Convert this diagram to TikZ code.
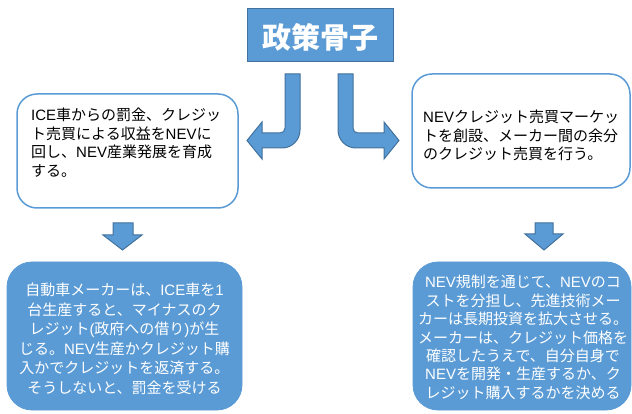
\documentclass[tikz,border=0pt]{standalone}
\usepackage{fontspec}
\newfontfamily\cjk{Noto Sans CJK JP}
\newfontfamily\latn{Liberation Sans}
\newcommand{\ltn}[1]{{\latn #1}}
\definecolor{ofblue}{HTML}{5B9BD5}
\definecolor{ofdark}{HTML}{41719C}
\tikzset{
  whitebox/.style={draw=ofblue, line width=1.5pt, fill=white, rounded corners=20pt, inner sep=0pt},
  bluebox/.style={draw=ofblue, line width=0.8pt, fill=ofblue, rounded corners=25pt, inner sep=0pt},
  titlebox/.style={draw=ofdark, line width=1pt, fill=ofblue, inner sep=0pt},
  blockarrow/.style={draw=ofdark, line width=1pt, fill=ofblue, line join=miter},
  bodytxt/.style={inner sep=0pt, font=\cjk\fontsize{15}{18.6}\selectfont},
}
\newcommand{\leftlines}[1]{\vtop{\hsize=230pt\raggedright\fontsize{15}{18.7}\selectfont #1\par}}
\begin{document}
\begin{tikzpicture}[x=1pt,y=-1pt]
\useasboundingbox (0,0) rectangle (632,414);
% title
\node[titlebox, minimum width=146pt, minimum height=53pt] (title) at (320,35.5) {};
\node[inner sep=0pt, text=white, font=\cjk\bfseries\fontsize{29}{32}\selectfont] (titletxt) at (320,37) {政策骨子};
% bent arrows
\draw[blockarrow] (285,74) -- (300,74) -- (300,130) .. controls (300,140) and (292,148) .. (282,148)
  -- (262,148) -- (262,159) -- (247,140.5) -- (262,122) -- (262,133) -- (280,133)
  .. controls (283,133) and (285,131) .. (285,128) -- cycle;
\draw[blockarrow] (353,74) -- (338,74) -- (338,130) .. controls (338,140) and (346,148) .. (356,148)
  -- (384,148) -- (384,159) -- (399,140.5) -- (384,122) -- (384,133) -- (358,133)
  .. controls (355,133) and (353,131) .. (353,128) -- cycle;
% top boxes
\node[whitebox, minimum width=221pt, minimum height=114pt] (b1) at (127.5,151) {};
\node[bodytxt, anchor=base west] (t1) at (31,120.5) {\cjk\leftlines{\ltn{ICE}車からの罰金、クレジッ\\ト売買による収益を\ltn{NEV}に\\回し、\ltn{NEV}産業発展を育成\\する。}};
\node[whitebox, minimum width=218pt, minimum height=114pt] (b2) at (521,131) {};
\node[bodytxt, anchor=base west] (t2) at (423,122.5) {\cjk\leftlines{\ltn{NEV}クレジット売買マーケッ\\トを創設、メーカー間の余分\\のクレジット売買を行う。}};
% down arrows
\draw[blockarrow] (113,223) -- (133,223) -- (133,235) -- (142,235) -- (122.5,250) -- (103,235) -- (113,235) -- cycle;
\draw[blockarrow] (535,223) -- (553,223) -- (553,234) -- (563,234) -- (544,250) -- (525,234) -- (535,234) -- cycle;
% bottom boxes
\node[bluebox, minimum width=235pt, minimum height=148pt] (b3) at (124.5,336) {};
\node[bodytxt, anchor=base, text=white] (t3) at (124.5,295.5) {\cjk\vtop{\hsize=260pt\centering\fontsize{15}{19.6}\selectfont
自動車メーカーは、\ltn{ICE}車を\ltn{1}\\台生産すると、マイナスのク\\レジット\ltn{(}政府への借り\ltn{)}が生\\じる。\ltn{NEV}生産かクレジット購\\入かでクレジットを返済する。\\そうしないと、罰金を受ける\par}};
\node[bluebox, minimum width=218pt, minimum height=148pt] (b4) at (522,336) {};
\node[bodytxt, anchor=base, text=white] (t4) at (523,287.5) {\cjk\vtop{\hsize=260pt\centering\fontsize{15}{18.5}\selectfont
\ltn{NEV}規制を通じて、\ltn{NEV}のコ\\ストを分担し、先進技術メー\\カーは長期投資を拡大させる。\\メーカーは、クレジット価格を\\確認したうえで、自分自身で\\\ltn{NEV}を開発・生産するか、ク\\レジット購入するかを決める\par}};
\end{tikzpicture}
\end{document}
